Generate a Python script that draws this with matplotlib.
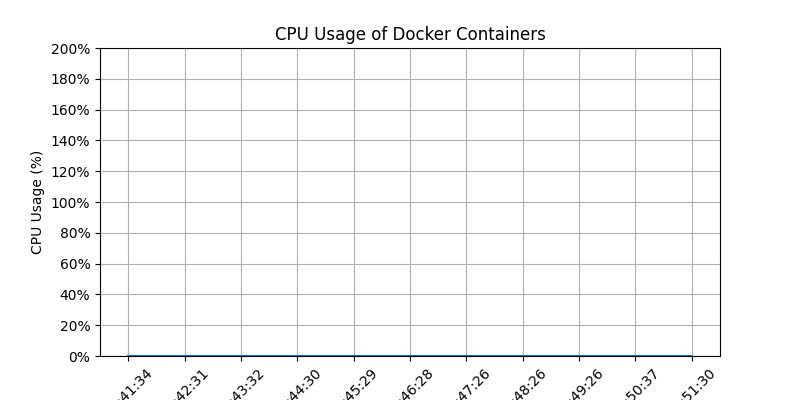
import matplotlib
matplotlib.use("Agg")
import matplotlib.pyplot as plt
from matplotlib.ticker import FuncFormatter

# sample timestamps (hour part is clipped off in the reference)
timestamps = ["10:41:34", "10:42:31", "10:43:32", "10:44:30", "10:45:29",
              "10:46:28", "10:47:26", "10:48:26", "10:49:26", "10:50:37",
              "10:51:30"]
cpu_usage = [0, 0, 0, 0, 0, 0, 0, 0, 0, 0, 0]

fig, ax = plt.subplots(figsize=(8, 4), dpi=100)

ax.plot(timestamps, cpu_usage)

ax.set_title("CPU Usage of Docker Containers")
ax.set_ylabel("CPU Usage (%)")
ax.set_ylim(0, 200)
ax.set_yticks(range(0, 201, 20))
ax.yaxis.set_major_formatter(FuncFormatter(lambda v, _: f"{v:.0f}%"))
ax.tick_params(axis="x", rotation=45)
ax.grid(True)

fig.savefig("out.png")
